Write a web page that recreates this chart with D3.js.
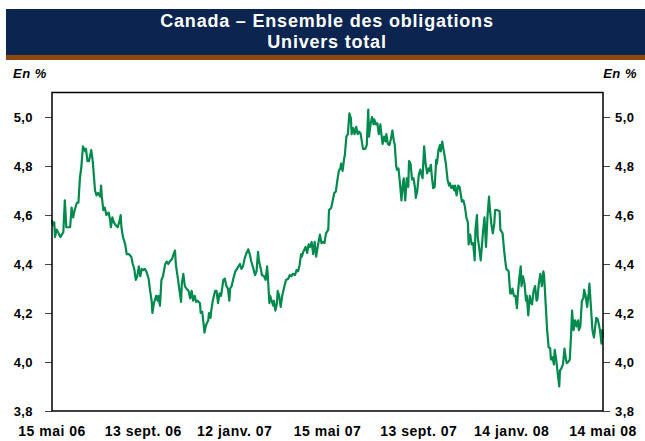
<!DOCTYPE html>
<html>
<head>
<meta charset="utf-8">
<script src="https://cdn.jsdelivr.net/npm/d3@7"></script>
<style>
  body { margin: 0; background: #fff; }
  svg { display: block; font-family: "Liberation Sans", Arial, sans-serif; }
</style>
</head>
<body>
<script>
// rendement (%) par jour écoulé depuis le 15 mai 2006
const serie = [
  [0,4.58],[1,4.56],[3,4.57],[4,4.51],[6,4.54],[8,4.53],[11,4.51],[13,4.52],[15,4.53],[17,4.66],
  [19,4.55],[22,4.55],[24,4.55],[26,4.63],[28,4.59],[30,4.62],[33,4.65],[35,4.65],[37,4.75],[39,4.80],
  [41,4.88],[44,4.86],[45,4.87],[47,4.82],[49,4.82],[52,4.865],[54,4.82],[56,4.74],[57,4.70],[59,4.68],
  [61,4.69],[64,4.675],[65,4.72],[66,4.675],[68,4.62],[70,4.63],[72,4.60],[75,4.61],[77,4.58],[78,4.55],
  [80,4.59],[82,4.57],[84,4.56],[87,4.55],[89,4.57],[91,4.60],[92,4.55],[94,4.51],[97,4.48],[99,4.44],
  [102,4.44],[105,4.43],[107,4.40],[109,4.38],[111,4.335],[113,4.35],[115,4.39],[117,4.35],[119,4.38],[121,4.375],
  [123,4.38],[125,4.37],[128,4.34],[130,4.29],[132,4.25],[133,4.20],[135,4.24],[138,4.27],[140,4.25],[141,4.27],
  [143,4.23],[145,4.335],[147,4.35],[150,4.40],[152,4.41],[154,4.40],[156,4.41],[159,4.42],[161,4.44],[163,4.455],
  [164,4.40],[167,4.335],[169,4.29],[171,4.245],[172,4.32],[174,4.36],[176,4.31],[178,4.30],[181,4.29],[183,4.26],
  [185,4.29],[187,4.25],[189,4.27],[191,4.245],[193,4.25],[196,4.24],[197,4.20],[199,4.205],[200,4.18],[202,4.12],
  [204,4.15],[207,4.17],[208,4.20],[210,4.18],[211,4.21],[213,4.25],[216,4.29],[218,4.29],[220,4.24],[222,4.28],
  [224,4.27],[227,4.335],[229,4.34],[231,4.31],[233,4.30],[235,4.25],[236,4.30],[238,4.31],[241,4.35],[243,4.37],
  [245,4.38],[249,4.40],[251,4.38],[253,4.39],[255,4.42],[257,4.44],[260,4.46],[262,4.44],[264,4.41],[266,4.39],
  [269,4.355],[271,4.37],[273,4.45],[274,4.415],[277,4.375],[278,4.355],[281,4.35],[283,4.335],[285,4.39],[286,4.35],
  [288,4.24],[289,4.27],[291,4.25],[293,4.23],[294,4.25],[296,4.21],[298,4.24],[299,4.29],[301,4.27],[303,4.225],
  [305,4.27],[308,4.31],[310,4.335],[313,4.34],[315,4.355],[317,4.35],[319,4.36],[322,4.355],[324,4.375],[326,4.37],
  [328,4.395],[330,4.44],[331,4.43],[333,4.45],[336,4.47],[338,4.445],[340,4.48],[342,4.47],[344,4.49],[346,4.44],
  [348,4.49],[350,4.43],[352,4.47],[355,4.52],[357,4.485],[359,4.49],[361,4.485],[363,4.525],[366,4.54],[367,4.62],
  [370,4.63],[372,4.66],[374,4.69],[376,4.695],[378,4.74],[380,4.78],[382,4.79],[383,4.81],[385,4.78],[387,4.83],
  [388,4.845],[390,4.92],[392,4.93],[394,5.015],[396,4.995],[397,4.93],[399,4.955],[401,4.93],[403,4.96],[405,4.93],
  [407,4.94],[409,4.93],[412,4.87],[415,4.87],[417,4.885],[419,5.03],[420,4.92],[422,4.97],[424,5.00],[426,4.97],
  [427,4.99],[429,4.97],[431,4.975],[433,4.93],[435,4.97],[436,4.94],[438,4.89],[440,4.92],[442,4.90],[443,4.93],
  [445,4.89],[447,4.885],[449,4.91],[451,4.945],[453,4.90],[454,4.89],[456,4.80],[457,4.785],[459,4.79],[461,4.73],
  [463,4.66],[465,4.73],[466,4.75],[468,4.66],[470,4.75],[472,4.715],[473,4.82],[475,4.81],[477,4.745],[479,4.75],
  [481,4.71],[482,4.67],[484,4.70],[486,4.765],[488,4.785],[489,4.77],[491,4.75],[493,4.88],[495,4.81],[497,4.77],
  [499,4.79],[500,4.78],[502,4.805],[503,4.765],[505,4.71],[507,4.715],[509,4.825],[510,4.81],[512,4.865],[514,4.885],
  [515,4.86],[517,4.90],[518,4.88],[520,4.845],[522,4.805],[524,4.745],[526,4.72],[527,4.73],[529,4.71],[531,4.72],
  [533,4.70],[534,4.72],[536,4.68],[538,4.72],[540,4.715],[541,4.695],[543,4.655],[545,4.66],[547,4.635],[549,4.59],
  [551,4.57],[552,4.48],[554,4.52],[556,4.48],[558,4.485],[560,4.415],[561,4.54],[563,4.60],[564,4.51],[566,4.465],
  [568,4.415],[570,4.49],[571,4.53],[573,4.59],[575,4.47],[577,4.595],[579,4.675],[580,4.63],[582,4.565],[584,4.525],
  [586,4.565],[587,4.62],[590,4.62],[593,4.615],[594,4.54],[597,4.525],[599,4.455],[601,4.40],[602,4.38],[605,4.37],
  [607,4.28],[609,4.28],[610,4.30],[612,4.27],[614,4.27],[616,4.22],[617,4.27],[619,4.34],[621,4.39],[622,4.31],
  [624,4.35],[626,4.32],[628,4.25],[629,4.27],[631,4.19],[633,4.27],[635,4.24],[636,4.235],[638,4.29],[640,4.31],
  [642,4.25],[643,4.255],[645,4.32],[647,4.36],[649,4.31],[651,4.37],[652,4.35],[654,4.24],[656,4.13],[658,4.06],
  [660,4.056],[661,4.01],[663,4.02],[665,3.99],[666,4.05],[668,4.01],[670,3.955],[672,3.90],[673,3.965],[675,3.975],
  [677,3.99],[679,4.055],[681,4.01],[682,3.995],[684,4.00],[686,4.01],[688,4.13],[689,4.21],[691,4.13],[693,4.17],
  [695,4.145],[697,4.17],[698,4.13],[700,4.145],[702,4.25],[704,4.26],[705,4.295],[707,4.27],[709,4.225],[711,4.28],
  [712,4.32],[714,4.225],[716,4.13],[718,4.10],[719,4.125],[721,4.18],[723,4.175],[725,4.145],[726,4.13],[728,4.075],
  [729,4.13],[730,4.10]
];

const dateDebut = new Date(2006, 4, 15);
const dateFin = new Date(2008, 4, 14);

const etiquettesX = ["15 mai 06", "13 sept. 06", "12 janv. 07", "15 mai 07", "13 sept. 07", "14 janv. 08", "14 mai 08"];
const datesX = [[2006,4,15],[2006,8,13],[2007,0,12],[2007,4,15],[2007,8,13],[2008,0,14],[2008,4,14]];
const ticksY = [3.8, 4.0, 4.2, 4.4, 4.6, 4.8, 5.0];

const W = 645, H = 441;
const plot = { left: 52, right: 603, top: 92.5, bottom: 411 };

const svg = d3.select("body").append("svg")
    .attr("width", W)
    .attr("height", H);

// bandeau titre
svg.append("rect")
    .attr("x", 6).attr("y", 9)
    .attr("width", W - 6).attr("height", 46)
    .attr("fill", "#0b2550");
svg.append("rect")
    .attr("x", 6).attr("y", 55)
    .attr("width", W - 6).attr("height", 5)
    .attr("fill", "#8a4a0c");

svg.append("text")
    .attr("x", 327).attr("y", 27)
    .attr("text-anchor", "middle")
    .attr("fill", "#fff")
    .style("font-size", "18px")
    .style("font-weight", "bold")
    .style("letter-spacing", "0.8px")
    .text("Canada – Ensemble des obligations");
svg.append("text")
    .attr("x", 327).attr("y", 48)
    .attr("text-anchor", "middle")
    .attr("fill", "#fff")
    .style("font-size", "18px")
    .style("font-weight", "bold")
    .style("letter-spacing", "0.8px")
    .text("Univers total");

svg.append("text")
    .attr("x", 13).attr("y", 78)
    .style("font-size", "13px")
    .style("font-weight", "bold")
    .style("font-style", "italic")
    .style("letter-spacing", "0.5px")
    .text("En %");
svg.append("text")
    .attr("x", 637).attr("y", 78)
    .attr("text-anchor", "end")
    .style("font-size", "13px")
    .style("font-weight", "bold")
    .style("font-style", "italic")
    .style("letter-spacing", "0.5px")
    .text("En %");

const x = d3.scaleTime()
    .domain([dateDebut, dateFin])
    .range([plot.left, plot.right]);
const y = d3.scaleLinear()
    .domain([3.8, 5.1])
    .range([plot.bottom, plot.top]);

const fmt = d => d3.format(".1f")(d).replace(".", ",");

const axeG = svg.append("g")
    .attr("transform", `translate(${plot.left},0)`)
    .call(d3.axisLeft(y).tickValues(ticksY).tickSize(7).tickPadding(12).tickFormat(fmt));
const axeD = svg.append("g")
    .attr("transform", `translate(${plot.right},0)`)
    .call(d3.axisRight(y).tickValues(ticksY).tickSize(7).tickPadding(5).tickFormat(fmt));

[axeG, axeD].forEach(a => {
    a.select(".domain").remove();
    a.selectAll(".tick line").attr("stroke", "#444");
    a.selectAll(".tick text")
        .attr("fill", "#000")
        .style("font-size", "13px")
        .style("font-weight", "bold")
        .style("letter-spacing", "0.4px")
        .style("font-family", "'Liberation Sans', Arial, sans-serif");
});

svg.append("g").selectAll("text")
    .data(etiquettesX)
    .enter().append("text")
    .attr("x", (d, i) => x(new Date(...datesX[i])))
    .attr("y", 436)
    .attr("text-anchor", "middle")
    .style("font-size", "14px")
    .style("font-weight", "bold")
    .style("letter-spacing", "0.5px")
    .text(d => d);

const ligne = d3.line()
    .x(d => x(d3.timeDay.offset(dateDebut, d[0])))
    .y(d => y(d[1]));

svg.append("path")
    .datum(serie)
    .attr("d", ligne)
    .attr("fill", "none")
    .attr("stroke", "#008a4e")
    .attr("stroke-width", 2.2)
    .attr("stroke-linejoin", "round");

// cadre
svg.append("rect")
    .attr("x", plot.left).attr("y", plot.top)
    .attr("width", plot.right - plot.left)
    .attr("height", plot.bottom - plot.top)
    .attr("fill", "none")
    .attr("stroke", "#000")
    .attr("stroke-width", 1.5);
</script>
</body>
</html>
